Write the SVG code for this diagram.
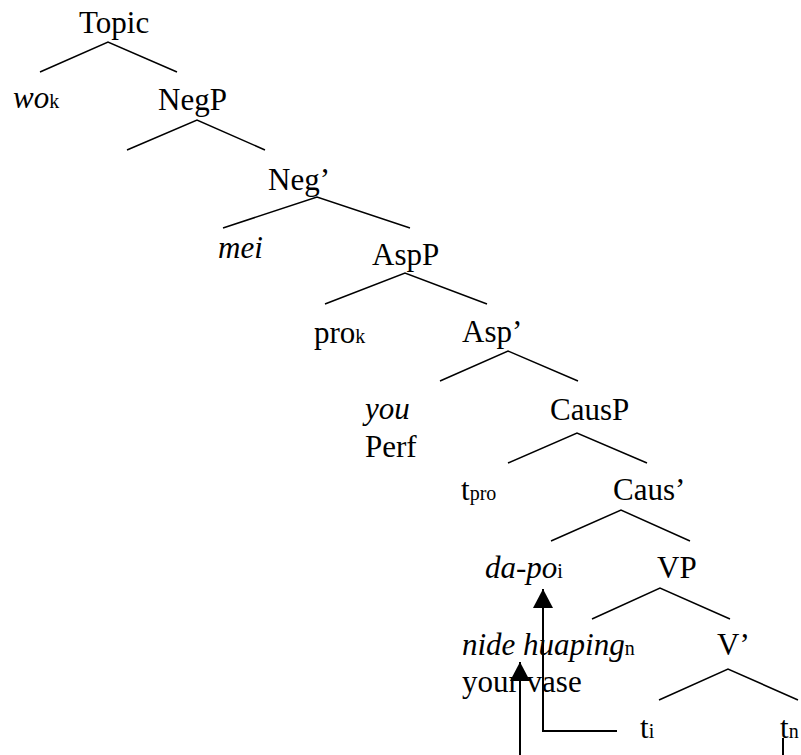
<svg xmlns="http://www.w3.org/2000/svg" width="801" height="755" viewBox="0 0 801 755">
<style>
text{font-family:"Liberation Serif","Times New Roman",serif;font-size:31px;fill:#000}
.i{font-style:italic}
.s{font-size:20px;font-style:normal}
.e{stroke:#000;stroke-width:1.5;fill:none}
.a{stroke:#000;stroke-width:2;fill:none}
</style>
<defs>
<marker id="ah" viewBox="0 0 19 20" refX="19" refY="10" markerWidth="19" markerHeight="20" markerUnits="userSpaceOnUse" orient="auto">
<path d="M19,10 L0,0 L0,20 Z" fill="#000"/>
</marker>
</defs>
<g id="n-topic"><text x="79" y="33">Topic</text></g>
<g id="n-wo"><text x="13" y="108" class="i">wo<tspan class="s">k</tspan></text></g>
<g id="n-negp"><text x="158" y="110">NegP</text></g>
<g id="n-negbar"><text x="268" y="190">Neg’</text></g>
<g id="n-mei"><text x="218" y="258" class="i">mei</text></g>
<g id="n-aspp"><text x="372" y="265">AspP</text></g>
<g id="n-pro"><text x="314" y="343">pro<tspan class="s">k</tspan></text></g>
<g id="n-aspbar"><text x="462" y="342">Asp’</text></g>
<g id="n-you"><text x="365" y="419"><tspan class="i">you</tspan><tspan x="365" y="457">Perf</tspan></text></g>
<g id="n-causp"><text x="550" y="420">CausP</text></g>
<g id="n-tpro"><text x="461" y="500">t<tspan class="s">pro</tspan></text></g>
<g id="n-causbar"><text x="613" y="500">Caus’</text></g>
<g id="n-dapo"><text x="485" y="578" class="i">da-po<tspan class="s">i</tspan></text></g>
<g id="n-vp"><text x="657" y="578">VP</text></g>
<g id="n-nide"><text x="462" y="655"><tspan class="i">nide huaping</tspan><tspan class="s">n</tspan><tspan x="462" y="692">your vase</tspan></text></g>
<g id="n-vbar"><text x="717" y="655">V’</text></g>
<g id="n-ti"><text x="640" y="738">t<tspan class="s">i</tspan></text></g>
<g id="n-tn"><text x="780" y="738">t<tspan class="s">n</tspan></text></g>
<g id="connectors">
<path class="e" d="M40,72 L108,42 L177,72"/>
<path class="e" d="M127,150 L197,120 L265,150"/>
<path class="e" d="M223,228 L317,197 L410,228"/>
<path class="e" d="M325,304 L405,273 L487,304"/>
<path class="e" d="M440,381 L508,351 L578,381"/>
<path class="e" d="M508,463 L577,433 L647,463"/>
<path class="e" d="M551,541 L621,510 L690,541"/>
<path class="e" d="M592,619 L660,588 L730,619"/>
<path class="e" d="M659,700 L728,669 L798,700"/>
<path class="a" d="M617,731 L543,731 L543,589" marker-end="url(#ah)"/>
<path class="a" d="M783,738 L783,760"/>
<path class="a" d="M520,760 L520,662" marker-end="url(#ah)"/>
</g>
</svg>
